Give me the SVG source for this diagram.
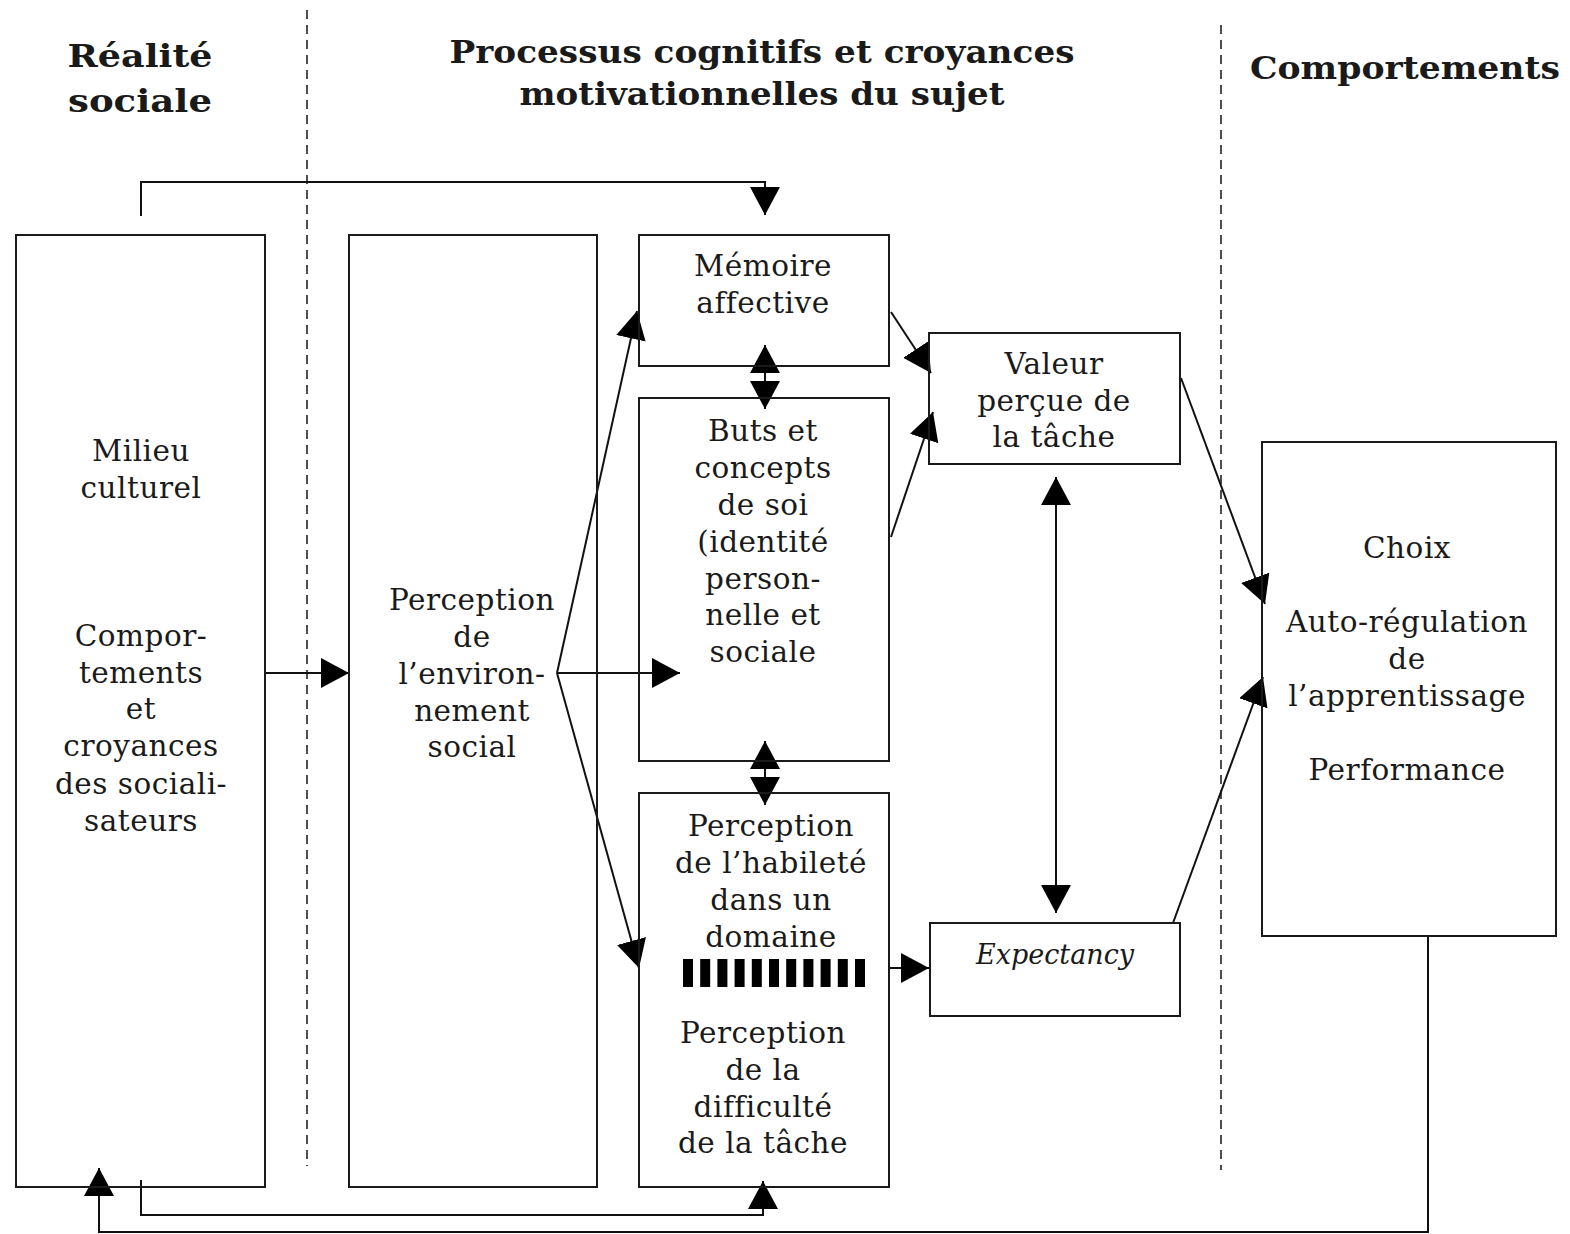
<svg xmlns="http://www.w3.org/2000/svg" width="1570" height="1234" viewBox="0 0 1570 1234">
<style>
.bg{fill:#ffffff}
.box{fill:none;stroke:#1a1a1a;stroke-width:2}
.t{font-family:"DejaVu Serif","Liberation Serif",serif;font-size:29.5px;letter-spacing:0.5px;fill:#1a1a1a;text-anchor:middle}
.h{font-family:"DejaVu Serif","Liberation Serif",serif;font-size:31px;font-weight:bold;fill:#1a1a1a;text-anchor:middle}
.it{font-style:italic;font-size:27px;letter-spacing:0}
.c{fill:none;stroke:#111;stroke-width:2}
.dash{fill:none;stroke:#222;stroke-width:1.6;stroke-dasharray:9 6}
.bar{fill:none;stroke:#000;stroke-width:28;stroke-dasharray:10 7.2}
</style>
<defs>
<marker id="arr" markerUnits="userSpaceOnUse" markerWidth="30" markerHeight="32" refX="28" refY="15" orient="auto-start-reverse" viewBox="0 0 30 32">
<path d="M0,0 L28,15 L0,30 Z" fill="#000"/>
</marker>
</defs>
<rect class="bg" x="0" y="0" width="1570" height="1234"/>

<g id="dividers">
<line class="dash" x1="307" y1="10" x2="307" y2="1166"/>
<line class="dash" x1="1221" y1="25" x2="1221" y2="1170"/>
</g>

<g id="headers">
<text class="h" x="140" y="67" textLength="145" lengthAdjust="spacingAndGlyphs">Réalité</text>
<text class="h" x="140" y="112" textLength="144" lengthAdjust="spacingAndGlyphs">sociale</text>
<text class="h" x="762" y="63" textLength="625" lengthAdjust="spacingAndGlyphs">Processus cognitifs et croyances</text>
<text class="h" x="762" y="105" textLength="485" lengthAdjust="spacingAndGlyphs">motivationnelles du sujet</text>
<text class="h" x="1405" y="79" textLength="310" lengthAdjust="spacingAndGlyphs">Comportements</text>
</g>

<g id="connectors">
<path class="c" d="M141,216 V182 H765 V215" marker-end="url(#arr)"/>
<path class="c" d="M265,673 H349" marker-end="url(#arr)"/>
<path class="c" d="M557,673 L637,311" marker-end="url(#arr)"/>
<path class="c" d="M557,673 H680" marker-end="url(#arr)"/>
<path class="c" d="M557,673 L639,968" marker-end="url(#arr)"/>
<path class="c" d="M765,345 V409" marker-start="url(#arr)" marker-end="url(#arr)"/>
<path class="c" d="M765,741 V805" marker-start="url(#arr)" marker-end="url(#arr)"/>
<path class="c" d="M891,312 L931,373" marker-end="url(#arr)"/>
<path class="c" d="M891,537 L933,412" marker-end="url(#arr)"/>
<path class="c" d="M1056,477 V913" marker-start="url(#arr)" marker-end="url(#arr)"/>
<path class="c" d="M890,968 H929" marker-end="url(#arr)"/>
<path class="c" d="M1181,378 L1265,604" marker-end="url(#arr)"/>
<path class="c" d="M1173,923 L1263,677" marker-end="url(#arr)"/>
<path class="c" d="M141,1180 V1215 H763 V1181" marker-end="url(#arr)"/>
<path class="c" d="M1428,936 V1232 H99 V1168" marker-end="url(#arr)"/>
</g>

<g id="milieu">
<rect class="box" x="16" y="235" width="249" height="952"/>
<text class="t" x="141" y="461">Milieu</text>
<text class="t" x="141" y="498">culturel</text>
<text class="t" x="141" y="646">Compor-</text>
<text class="t" x="141" y="683">tements</text>
<text class="t" x="141" y="719">et</text>
<text class="t" x="141" y="756">croyances</text>
<text class="t" x="141" y="794">des sociali-</text>
<text class="t" x="141" y="831">sateurs</text>
</g>

<g id="perception-env">
<rect class="box" x="349" y="235" width="248" height="952"/>
<text class="t" x="472" y="610">Perception</text>
<text class="t" x="472" y="647">de</text>
<text class="t" x="472" y="684">l’environ-</text>
<text class="t" x="472" y="721">nement</text>
<text class="t" x="472" y="757">social</text>
</g>

<g id="memoire">
<rect class="box" x="639" y="235" width="250" height="131"/>
<text class="t" x="763" y="276">Mémoire</text>
<text class="t" x="763" y="313">affective</text>
</g>

<g id="buts">
<rect class="box" x="639" y="398" width="250" height="363"/>
<text class="t" x="763" y="441">Buts et</text>
<text class="t" x="763" y="478">concepts</text>
<text class="t" x="763" y="515">de soi</text>
<text class="t" x="763" y="552">(identité</text>
<text class="t" x="763" y="589">person-</text>
<text class="t" x="763" y="625">nelle et</text>
<text class="t" x="763" y="662">sociale</text>
</g>

<g id="perception-habilete">
<rect class="box" x="639" y="793" width="250" height="394"/>
<text class="t" x="771" y="836">Perception</text>
<text class="t" x="771" y="873">de l’habileté</text>
<text class="t" x="771" y="910">dans un</text>
<text class="t" x="771" y="947">domaine</text>
<line class="bar" x1="683" y1="973" x2="866" y2="973"/>
<text class="t" x="763" y="1043">Perception</text>
<text class="t" x="763" y="1080">de la</text>
<text class="t" x="763" y="1117">difficulté</text>
<text class="t" x="763" y="1153">de la tâche</text>
</g>

<g id="valeur">
<rect class="box" x="929" y="333" width="251" height="131"/>
<text class="t" x="1054" y="374">Valeur</text>
<text class="t" x="1054" y="411">perçue de</text>
<text class="t" x="1054" y="447">la tâche</text>
</g>

<g id="expectancy">
<rect class="box" x="930" y="923" width="250" height="93"/>
<text class="t it" x="1055" y="964">Expectancy</text>
</g>

<g id="choix">
<rect class="box" x="1262" y="442" width="294" height="494"/>
<text class="t" x="1407" y="558">Choix</text>
<text class="t" x="1407" y="632">Auto-régulation</text>
<text class="t" x="1407" y="669">de</text>
<text class="t" x="1407" y="706">l’apprentissage</text>
<text class="t" x="1407" y="780">Performance</text>
</g>
</svg>
